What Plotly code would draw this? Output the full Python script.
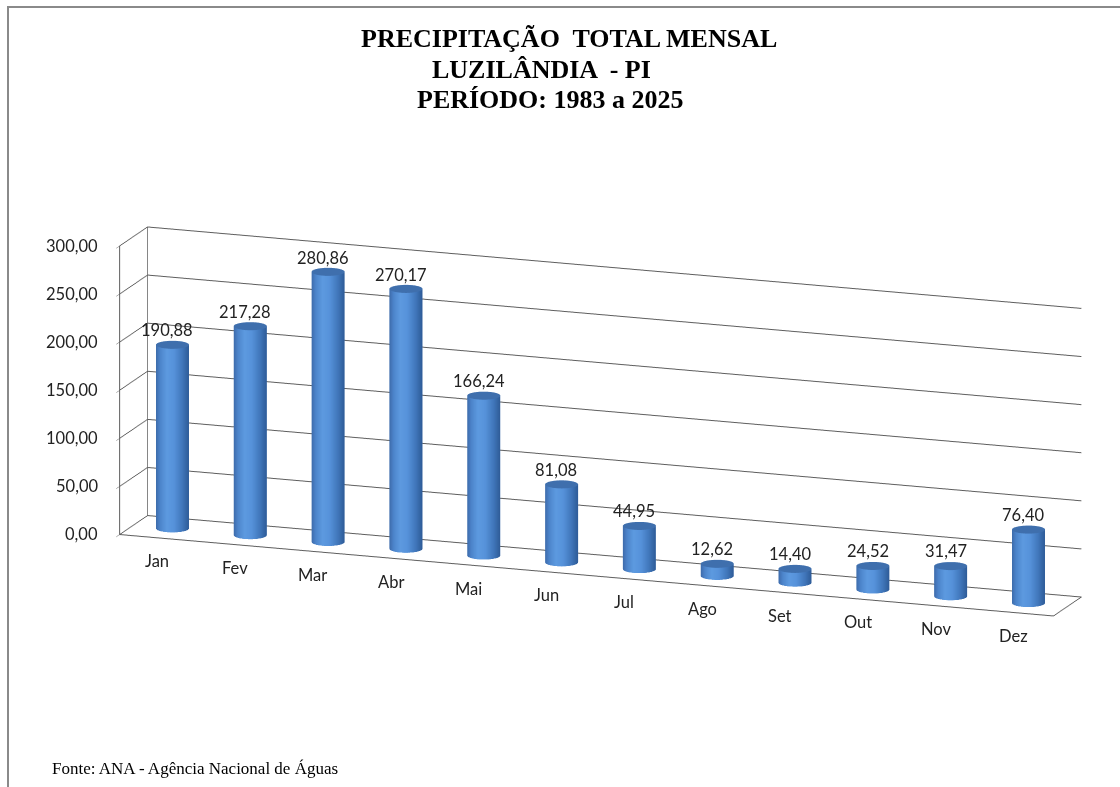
import numpy as np
import plotly.graph_objects as go

# ---------------- data ----------------
months = ["Jan", "Fev", "Mar", "Abr", "Mai", "Jun", "Jul", "Ago", "Set", "Out", "Nov", "Dez"]
precip = [190.88, 217.28, 280.86, 270.17, 166.24, 81.08, 44.95, 12.62, 14.40, 24.52, 31.47, 76.40]
z_tickvals = [0, 50, 100, 150, 200, 250, 300]
z_ticktext = ["0,00", "50,00", "100,00", "150,00", "200,00", "250,00", "300,00"]

title_lines = ["PRECIPITAÇÃO  TOTAL MENSAL", "LUZILÂNDIA  - PI", "PERÍODO: 1983 a 2025"]
source_text = "Fonte: ANA - Agência Nacional de Águas"

# ---------------- view geometry ----------------
theta = np.radians(19.7)   # azimuth of the camera
phi = np.radians(14.1)     # elevation of the camera
eye_dir = np.array([np.sin(theta) * np.cos(phi), -np.cos(theta) * np.cos(phi), np.sin(phi)])
eye_dist = 1.8
zoom = 1.15

radius = 0.2      # in category units
y_center = 0.5
cap_val = 1.6

colorscale = [
    [0.0, "#3d6cab"],
    [0.096, "#4c84ca"],
    [0.25, "#5d9ae0"],
    [0.42, "#5692da"],
    [0.615, "#4076ba"],
    [0.769, "#2e5b97"],
    [0.77, "#3f6fad"],
    [1.0, "#3f6fad"],
]

TEXT_FONT = "Lato, Open Sans, sans-serif"
SERIF = "Liberation Serif, Times New Roman, serif"
GRID = "#5e5e5e"
LABEL_FONT = dict(family=TEXT_FONT, size=16.5, color="#222222")


def cylinder(xc, yc, h, r, n=64):
    ang = np.linspace(0, 2 * np.pi, n, endpoint=False)
    cx = xc + r * np.cos(ang)
    cy = yc + r * np.sin(ang)
    X = np.concatenate([cx, cx, cx, [xc]])
    Y = np.concatenate([cy, cy, cy, [yc]])
    Z = np.concatenate([np.zeros(n), np.full(n, h), np.full(n, h), [h]])
    shade = np.cos(ang - theta)
    inten = np.concatenate([shade, shade, np.full(n, cap_val), [cap_val]])
    I, J, K = [], [], []
    for s in range(n):
        a, b = s, (s + 1) % n
        I += [a, b]
        J += [b, n + b]
        K += [n + a, n + a]
        I.append(2 * n + a)
        J.append(2 * n + b)
        K.append(3 * n)
    return go.Mesh3d(
        x=X, y=Y, z=Z, i=I, j=J, k=K,
        intensity=inten, cmin=-1, cmax=cap_val, colorscale=colorscale,
        showscale=False, flatshading=False, hoverinfo="skip",
        lighting=dict(ambient=1.0, diffuse=0.0, specular=0.0, roughness=1.0, fresnel=0.0),
    )


fig = go.Figure()
for idx, val in enumerate(precip):
    fig.add_trace(cylinder(idx, y_center, val, radius))

value_labels = [f"{v:.2f}".replace(".", ",") for v in precip]
x_lo, x_hi = -0.5, len(months) - 0.5

scene_annotations = []
for idx, (val, lab) in enumerate(zip(precip, value_labels)):
    scene_annotations.append(dict(
        x=idx, y=y_center, z=val, text=lab, showarrow=False,
        xanchor="center", yanchor="middle", xshift=-5, yshift=14, font=LABEL_FONT))
for idx, m in enumerate(months):
    scene_annotations.append(dict(
        x=idx, y=0, z=0, text=m, showarrow=False,
        xanchor="center", yanchor="middle", xshift=-1, yshift=-24, font=LABEL_FONT))
for tv, tt in zip(z_tickvals, z_ticktext):
    scene_annotations.append(dict(
        x=x_lo, y=0, z=tv, text=tt, showarrow=False,
        xanchor="right", yanchor="middle", xshift=-19, yshift=0, font=LABEL_FONT))

axis_common = dict(showbackground=False, showspikes=False, title=dict(text=""),
                   linecolor=GRID, linewidth=2, gridcolor=GRID, gridwidth=2,
                   zeroline=False, tickangle=0)

title_pos = [(569, 38), (541, 69), (550, 100)]
annotations = []
for line, (px, py) in zip(title_lines, title_pos):
    annotations.append(dict(
        text="<b>" + line + "</b>", xref="paper", yref="paper",
        x=px / 1120, y=1 - py / 787, xanchor="center", yanchor="middle", showarrow=False,
        font=dict(family=SERIF, size=26, color="black")))
annotations.append(dict(text=source_text, xref="paper", yref="paper",
                        x=50 / 1120, y=1 - 768 / 787, xanchor="left", yanchor="middle",
                        showarrow=False, font=dict(family=SERIF, size=17, color="black")))

fig.update_layout(
    width=1120, height=787,
    margin=dict(l=0, r=0, t=0, b=0),
    paper_bgcolor="white",
    showlegend=False,
    scene=dict(
        domain=dict(x=[0.072, 1.0], y=[0.1, 0.83]),
        xaxis=dict(axis_common, range=[x_lo, x_hi], tickvals=list(range(len(months))),
                   ticktext=months, showgrid=False, showline=True, ticks="",
                   showticklabels=False),
        yaxis=dict(axis_common, range=[0, 1], showgrid=True, showline=True,
                   showticklabels=False, ticks="", tickvals=[0.999]),
        zaxis=dict(axis_common, range=[0, 300], tickvals=z_tickvals, ticktext=z_ticktext,
                   showgrid=True, showline=True, ticks="outside", tickcolor=GRID,
                   ticklen=6, showticklabels=True,
                   tickfont=dict(family=TEXT_FONT, size=8, color="rgba(255,255,255,0)")),
        aspectmode="manual",
        aspectratio=dict(x=3.0 * zoom, y=0.25 * zoom, z=0.9 * zoom),
        camera=dict(
            projection=dict(type="orthographic"),
            eye=dict(x=eye_dist * eye_dir[0], y=eye_dist * eye_dir[1], z=eye_dist * eye_dir[2]),
            center=dict(x=0, y=0, z=0),
            up=dict(x=0, y=0, z=1),
        ),
        annotations=scene_annotations,
        dragmode=False,
    ),
    shapes=[dict(type="rect", xref="paper", yref="paper",
                 x0=8 / 1120, x1=1.05, y0=-0.05, y1=1 - 7 / 787,
                 line=dict(color="#8a8a8a", width=2), fillcolor="rgba(0,0,0,0)")],
    annotations=annotations,
)

fig.write_html("out.html")
